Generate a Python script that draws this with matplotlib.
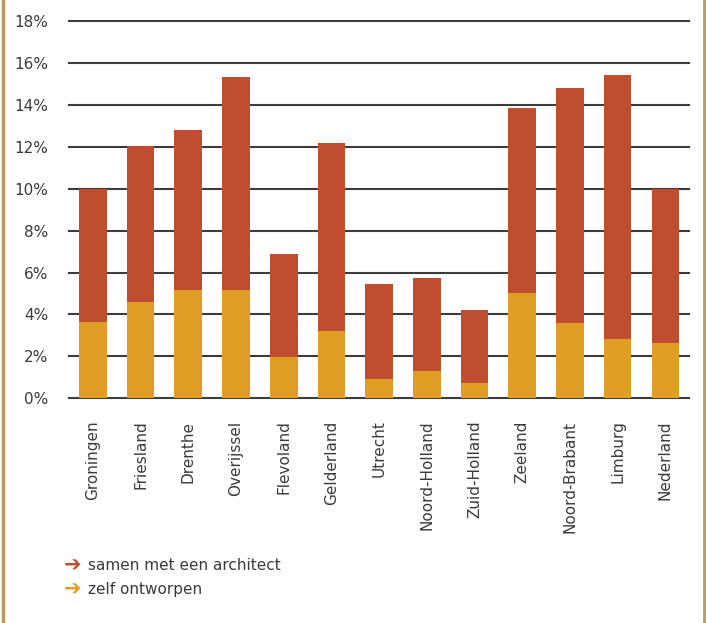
import matplotlib.pyplot as plt
from matplotlib.lines import Line2D

provincies = ["Groningen", "Friesland", "Drenthe", "Overijssel", "Flevoland",
              "Gelderland", "Utrecht", "Noord-Holland", "Zuid-Holland",
              "Zeeland", "Noord-Brabant", "Limburg", "Nederland"]

# aandeel zelf ontworpen (%)
zelf = [3.63, 4.59, 5.16, 5.16, 1.98, 3.22, 0.92, 1.30, 0.73, 5.01, 3.59, 2.82, 2.63]
# totaal (zelf + samen met architect) (%)
totaal = [10.0, 12.06, 12.82, 15.35, 6.87, 12.17, 5.44, 5.73, 4.20, 13.87, 14.82, 15.40, 10.0]
architect = [t - z for t, z in zip(totaal, zelf)]

yticks = list(range(0, 19, 2))

rood = "#bf4e30"
geel = "#e19e26"
tekst = "#3a3a3a"
rand = "#b89a5e"

fig = plt.figure(figsize=(7.06, 6.23), dpi=100)
ax = fig.add_axes([0.0977, 0.3607, 0.8785, 0.6056])

for y in yticks:
    ax.axhline(y, color="#3c3c3c", lw=1.5, zorder=1, clip_on=False)

x = range(len(provincies))
ax.bar(x, zelf, width=0.58, color=geel, zorder=2)
ax.bar(x, architect, bottom=zelf, width=0.58, color=rood, zorder=2)

ax.set_xlim(-0.5, len(provincies) - 0.5)
ax.set_ylim(0, 18)
ax.set_yticks(yticks)
ax.set_yticklabels([f"{v}%" for v in yticks], color=tekst, fontsize=11)
ax.set_xticks(list(x))
ax.set_xticklabels(provincies, rotation=90, color=tekst, fontsize=11)
ax.tick_params(axis="y", length=0, pad=15)
ax.tick_params(axis="x", length=0, pad=16)
for s in ax.spines.values():
    s.set_visible(False)

# legenda met pijltjes
fig.text(0.090, 0.0915, "\u2794", color=rood, fontsize=15, va="center", ha="left",
         fontweight="bold")
fig.text(0.125, 0.0915, "samen met een architect", color=tekst, fontsize=11,
         va="center", ha="left")
fig.text(0.090, 0.0530, "\u2794", color=geel, fontsize=15, va="center", ha="left",
         fontweight="bold")
fig.text(0.125, 0.0530, "zelf ontworpen", color=tekst, fontsize=11,
         va="center", ha="left")

# kaderlijnen links en rechts
fig.add_artist(Line2D([0.004, 0.004], [0, 1], transform=fig.transFigure,
                      color=rand, lw=2.5))
fig.add_artist(Line2D([0.997, 0.997], [0, 1], transform=fig.transFigure,
                      color=rand, lw=2))

fig.savefig("out.png", dpi=100)
